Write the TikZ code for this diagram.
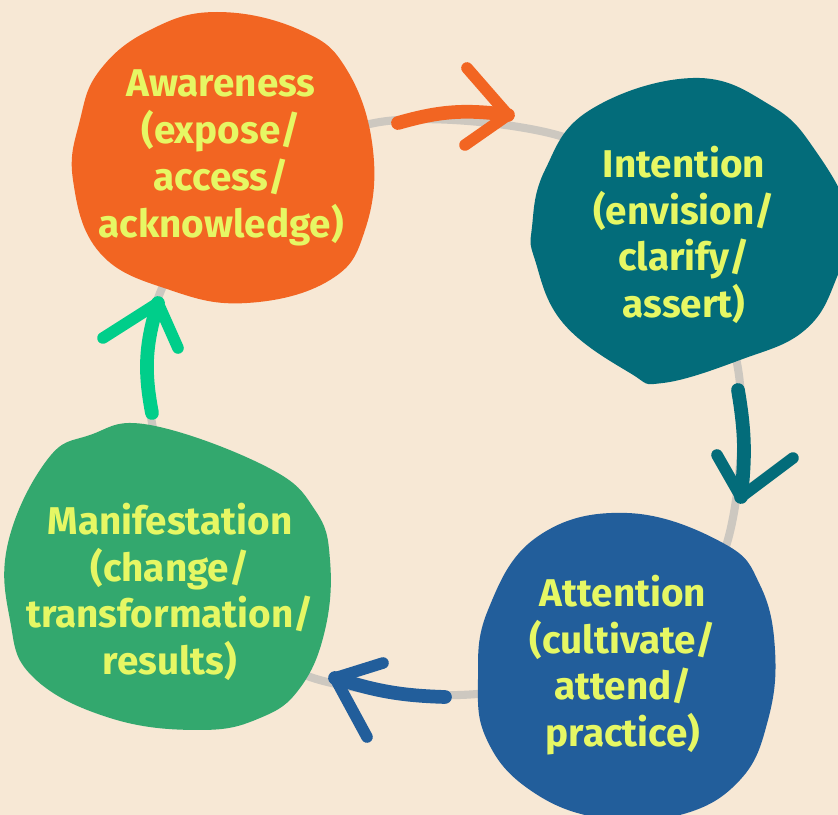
\documentclass[tikz,border=0pt]{standalone}
\usepackage{fontspec}
\setmainfont{Fira Sans}
\usepackage{tikz}

\definecolor{paper}{HTML}{F7E8D5}
\definecolor{ringC}{HTML}{CDC8C0}
\definecolor{orangeC}{HTML}{F26522}
\definecolor{tealC}{HTML}{036C7A}
\definecolor{blueC}{HTML}{225E9B}
\definecolor{greenC}{HTML}{33A86E}
\definecolor{mintC}{HTML}{00CE8A}
\definecolor{textY}{HTML}{E6F764}

\tikzset{
  lbl/.style={text=textY, font=\bfseries\fontsize{11}{13.3}\selectfont, align=center},
  pen/.style={line width=3.9pt, line cap=round, line join=round},
  barb/.style={line width=3.3pt, line cap=round, line join=round},
  ring/.style={draw=ringC, line width=2.3pt},
}

\begin{document}
\begin{tikzpicture}[x=0.01cm, y=-0.01cm]
\useasboundingbox (0,0) rectangle (838,815);
\fill[paper] (0,0) rectangle (838,815);
\clip (0,0) rectangle (838,815);

% grey loop behind the blobs
\draw[ring] plot[smooth cycle, tension=0.55] coordinates {(380,122) (557,135) (660,200) (737,363) (727,543) (655,635) (487,693) (310,677) (215,600) (152,423) (160,293) (245,185)};

% blobs
\fill[orangeC] plot[smooth cycle, tension=0.7] coordinates {(217,12) (300,30) (347,70) (373,150) (365,230) (330,280) (247,303) (170,290) (100,253) (73,180) (80,120) (100,70) (150,30)};
\fill[tealC] plot[smooth cycle, tension=0.7] coordinates {(693,78) (770,105) (815,150) (850,220) (837,277) (805,330) (740,360) (663,383) (630,373) (563,323) (535,260) (532,227) (545,170) (590,110)};
\fill[blueC] plot[smooth cycle, tension=0.7] coordinates {(627,513) (723,543) (760,585) (775,650) (768,720) (740,780) (680,815) (600,818) (530,790) (487,740) (478,680) (488,610) (537,537)};
\fill[greenC] plot[smooth cycle, tension=0.7] coordinates {(150,425) (267,467) (315,510) (330,560) (325,630) (300,688) (260,718) (200,730) (110,718) (33,677) (10,620) (8,543) (47,460) (90,435)};

% labels
\node[lbl] (aware) at (221,158) {Awareness\\(expose/\\access/\\acknowledge)};
\node[lbl] (intent) at (684,235) {Intention\\(envision/\\clarify/\\assert)};
\node[lbl] (attend) at (623,665) {Attention\\(cultivate/\\attend/\\practice)};
\node[lbl] (manif) at (170,592) {Manifestation\\(change/\\transformation/\\results)};

% arrow ends
\coordinate (o1) at (398,123); \coordinate (o2) at (508,115);
\coordinate (o3) at (467,68);  \coordinate (o4) at (465,145);
\coordinate (t1) at (738,390); \coordinate (t2) at (741,497);
\coordinate (t3) at (717,455); \coordinate (t4) at (793,458);
\coordinate (b1) at (445,697); \coordinate (b2) at (335,678);
\coordinate (b3) at (383,663); \coordinate (b4) at (367,737);
\coordinate (g1) at (152,413); \coordinate (g2) at (158,303);
\coordinate (g3) at (103,338); \coordinate (g4) at (178,348);

% hand drawn arrows
\draw[pen, orangeC] (o1) to[bend left=12] (o2);
\draw[barb, orangeC] (o3) -- (o2) -- (o4);
\draw[pen, tealC] (t1) to[bend left=8] (t2);
\draw[barb, tealC] (t3) -- (t2) -- (t4);
\draw[pen, blueC] (b1) to[bend left=8] (b2);
\draw[barb, blueC] (b3) -- (b2) -- (b4);
\draw[pen, mintC] (g1) to[bend left=14] (g2);
\draw[barb, mintC] (g3) -- (g2) -- (g4);

\end{tikzpicture}
\end{document}
